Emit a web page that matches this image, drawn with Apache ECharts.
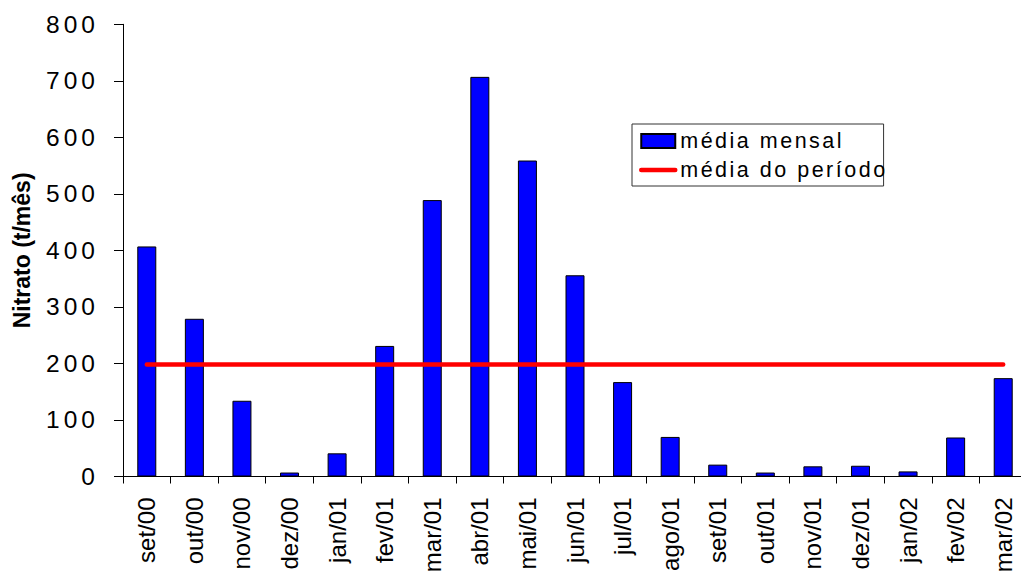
<!DOCTYPE html>
<html>
<head>
<meta charset="utf-8">
<title>Nitrato</title>
<script src="https://cdn.jsdelivr.net/npm/echarts@6/dist/echarts.min.js"></script>
<style>
  html, body { margin: 0; padding: 0; background: #fff; }
  #chart { width: 1021px; height: 571px; }
  /* wider tracking for the value labels and the legend entries */
  #chart text[style*="24.5px"] { letter-spacing: 4px; }
  #chart text[style*="21.5px"] { letter-spacing: 2.5px; }
</style>
</head>
<body>
<div id="chart"></div>
<script>
// monthly nitrate load, t/month
const months = ['set/00', 'out/00', 'nov/00', 'dez/00', 'jan/01', 'fev/01', 'mar/01', 'abr/01',
  'mai/01', 'jun/01', 'jul/01', 'ago/01', 'set/01', 'out/01', 'nov/01', 'dez/01', 'jan/02',
  'fev/02', 'mar/02'];
const monthlyMean = [407, 279, 134, 7, 41, 231, 489, 707, 559, 356, 167, 70, 21, 7, 18, 19, 9, 69, 174];
// mean over the whole period
const periodMean = 198;
const yTicks = [0, 100, 200, 300, 400, 500, 600, 700, 800];

const FONT = '"Liberation Sans", Arial, sans-serif';
const chart = echarts.init(document.getElementById('chart'), null, { renderer: 'svg' });

chart.setOption({
  animation: false,
  backgroundColor: '#ffffff',
  grid: {
    left: 123, top: 24.3, width: 904, bottom: 94.5,
    containLabel: false, outerBoundsMode: 'none'
  },
  legend: {
    orient: 'vertical',
    left: 632,
    top: 124,
    itemWidth: 34,
    itemHeight: 14,
    itemGap: 7,
    padding: [6, 36, 5, 7],
    borderColor: '#333',
    borderWidth: 1,
    textStyle: { fontFamily: FONT, fontSize: 21.5, color: '#000' },
    data: [
      { name: 'média mensal', icon: 'rect' },
      { name: 'média do período', itemStyle: { opacity: 0 }, lineStyle: { width: 4.5 } }
    ]
  },
  xAxis: {
    type: 'category',
    data: months,
    boundaryGap: true,
    axisLine: { lineStyle: { color: '#000', width: 1 } },
    axisTick: { show: true, length: 7, alignWithLabel: false, lineStyle: { color: '#000' } },
    axisLabel: {
      interval: 0,
      rotate: 90,
      margin: 21,
      fontFamily: FONT,
      fontSize: 24,
      color: '#000'
    },
    splitLine: { show: false }
  },
  yAxis: {
    type: 'value',
    min: yTicks[0],
    max: yTicks[yTicks.length - 1],
    interval: 100,
    name: 'Nitrato (t/mês)',
    nameLocation: 'middle',
    nameGap: 90,
    nameTextStyle: { fontFamily: FONT, fontSize: 23, fontWeight: 'bold', color: '#000' },
    axisLine: { show: true, lineStyle: { color: '#000', width: 1 } },
    axisTick: { show: true, length: 9, inside: false, lineStyle: { color: '#000' } },
    axisLabel: {
      margin: 24,
      fontFamily: FONT,
      fontSize: 24.5,
      color: '#000'
    },
    splitLine: { show: false }
  },
  series: [
    {
      name: 'média mensal',
      type: 'bar',
      data: monthlyMean,
      barWidth: 19,
      itemStyle: { color: '#0000ff', borderColor: '#000', borderWidth: 1 }
    },
    {
      name: 'média do período',
      type: 'line',
      data: months.map(() => periodMean),
      symbol: 'none',
      lineStyle: { color: '#ff0000', width: 4.5, cap: 'round' },
      itemStyle: { color: '#ff0000' },
      z: 5
    }
  ]
});
</script>
</body>
</html>
